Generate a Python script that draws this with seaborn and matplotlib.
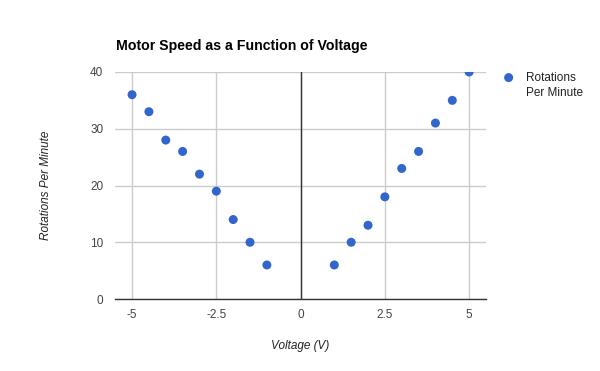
import pandas as pd
import matplotlib.pyplot as plt
from matplotlib.lines import Line2D
import seaborn as sns

voltage = [-5, -4.5, -4, -3.5, -3, -2.5, -2, -1.5, -1,
           1, 1.5, 2, 2.5, 3, 3.5, 4, 4.5, 5]
rpm = [36, 33, 28, 26, 22, 19, 14, 10, 6,
       6, 10, 13, 18, 23, 26, 31, 35, 40]
x_ticks = [-5, -2.5, 0, 2.5, 5]
x_tick_labels = ['-5', '-2.5', '0', '2.5', '5']
y_ticks = [0, 10, 20, 30, 40]

data = pd.DataFrame({'Voltage (V)': voltage, 'Rotations Per Minute': rpm})

sns.set_style('white')
plt.rcParams['font.family'] = ['Liberation Sans', 'DejaVu Sans']

fig = plt.figure(figsize=(6, 3.71), dpi=100)
ax = fig.add_axes([0.192, 0.194, 0.618, 0.612])

sns.scatterplot(data=data, x='Voltage (V)', y='Rotations Per Minute', ax=ax,
                color='#3366cc', s=42, edgecolor='none', linewidth=0,
                label='Rotations', zorder=3)

ax.set_xlim(-5.5, 5.5)
ax.set_ylim(0, 40)
ax.set_xticks(x_ticks)
ax.set_xticklabels(x_tick_labels)
ax.set_yticks(y_ticks)
ax.grid(True, color='#cccccc', linewidth=1)
ax.axvline(0, color='#333333', linewidth=1, zorder=2)
for side in ['left', 'right', 'top']:
    ax.spines[side].set_visible(False)
ax.spines['bottom'].set_color('#333333')
ax.spines['bottom'].set_linewidth(1)
ax.spines['bottom'].set_zorder(2)
ax.tick_params(axis='both', length=0, labelsize=8.5, labelcolor='#444444')
ax.tick_params(axis='x', pad=7.5)
ax.tick_params(axis='y', pad=8.6)

ax.set_xlabel('Voltage (V)', fontsize=8.5, style='italic', color='#222222', labelpad=13.5)
ax.set_ylabel('Rotations Per Minute', fontsize=8.5, style='italic', color='#222222', labelpad=27.4)

fig.text(0.193, 0.876, 'Motor Speed as a Function of Voltage', fontsize=10.2,
         fontweight='bold', color='black', va='center', ha='left')

# legend: marker next to the first line only, second line as an empty entry
handles, labels = ax.get_legend_handles_labels()
handles.append(Line2D([], [], linestyle='none'))
labels.append('Per Minute')
leg = ax.legend(handles, labels, loc='upper left', bbox_to_anchor=(1.0165, 1.022),
                frameon=False, fontsize=8.5, handletextpad=0.45, borderaxespad=0,
                labelspacing=0.3)
for t in leg.get_texts():
    t.set_color('#222222')

plt.savefig('out.png', dpi=100)
